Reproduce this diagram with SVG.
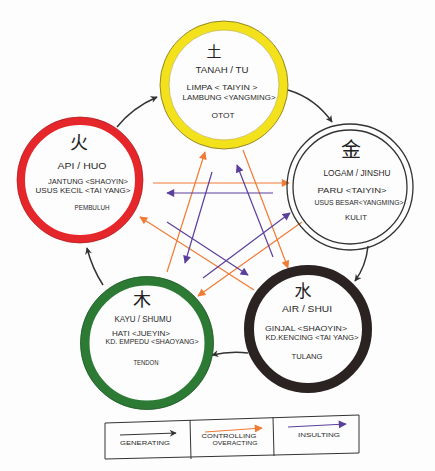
<svg xmlns="http://www.w3.org/2000/svg" width="435" height="471" viewBox="0 0 435 471">
<defs>
<style>
.t{font-family:"Liberation Sans","DejaVu Sans",sans-serif;fill:#2a2a2a;text-anchor:middle}
.n{font-size:8.5px}
.o{font-size:7.5px}
.s{font-size:6.5px}
.l{font-size:5.5px}
.cjk{font-family:"Noto Sans CJK SC","Noto Sans CJK JP",sans-serif;fill:#222;text-anchor:middle}
.gen{fill:none;stroke:#333;stroke-width:1.5;marker-end:url(#ab)}
.ctl{fill:none;stroke:#f07b35;stroke-width:1.2;marker-end:url(#ao)}
.ins{fill:none;stroke:#5b3f9c;stroke-width:1.2;marker-end:url(#ap)}
</style>
<marker id="ab" viewBox="0 0 10 10" refX="9" refY="5" markerWidth="8" markerHeight="7" markerUnits="userSpaceOnUse" orient="auto"><path d="M0,0 L10,5 L0,10 L3,5 z" fill="#333"/></marker>
<marker id="ao" viewBox="0 0 10 10" refX="9" refY="5" markerWidth="9" markerHeight="8" markerUnits="userSpaceOnUse" orient="auto"><path d="M0,0 L10,5 L0,10 z" fill="#f07b35"/></marker>
<marker id="ap" viewBox="0 0 10 10" refX="9" refY="5" markerWidth="9" markerHeight="8" markerUnits="userSpaceOnUse" orient="auto"><path d="M0,0 L10,5 L0,10 z" fill="#5b3f9c"/></marker>
</defs>
<rect width="435" height="471" fill="#fdfdfd"/>

<g id="connectors">
<path class="gen" d="M117,127 Q132,108 157,97"/>
<path class="gen" d="M288,90 Q315,98 332,122"/>
<path class="gen" d="M368,246 Q366,266 355,281"/>
<path class="gen" d="M248,353 Q230,351 212,355"/>
<path class="gen" d="M103,285 Q92,268 87,248"/>
<line class="ctl" x1="153" y1="183" x2="289" y2="183"/>
<line class="ctl" x1="302" y1="222" x2="198" y2="296"/>
<line class="ctl" x1="254" y1="290" x2="140" y2="217"/>
<line class="ctl" x1="167" y1="272" x2="205" y2="152"/>
<line class="ctl" x1="243" y1="150" x2="288" y2="268"/>
<line class="ins" x1="273" y1="193" x2="167" y2="193"/>
<line class="ins" x1="212" y1="172" x2="185" y2="263"/>
<line class="ins" x1="273" y1="257" x2="237" y2="165"/>
<line class="ins" x1="167" y1="222" x2="248" y2="275"/>
<line class="ins" x1="203" y1="278" x2="290" y2="213"/>
</g>

<g id="earth">
<circle cx="224" cy="85" r="59.5" fill="none" stroke="#f3e11b" stroke-width="9"/>
<circle cx="224" cy="85" r="64" fill="none" stroke="#7d7020" stroke-width="0.8"/>
<circle cx="224" cy="85" r="55" fill="none" stroke="#b5a51c" stroke-width="0.6"/>
<text class="cjk" x="214" y="57" font-size="15">土</text>
<text class="t n" x="222" y="73" textLength="53" lengthAdjust="spacingAndGlyphs">TANAH / TU</text>
<text class="t o" x="222" y="90" textLength="71" lengthAdjust="spacingAndGlyphs">LIMPA &lt; TAIYIN &gt;</text>
<text class="t o" x="229" y="100" textLength="93" lengthAdjust="spacingAndGlyphs">LAMBUNG &lt;YANGMING&gt;</text>
<text class="t s" x="223" y="118" textLength="23" lengthAdjust="spacingAndGlyphs">OTOT</text>
</g>

<g id="fire">
<circle cx="80" cy="180" r="59" fill="none" stroke="#e5262b" stroke-width="8"/>
<circle cx="80" cy="180" r="63" fill="none" stroke="#a81c20" stroke-width="0.7"/>
<text class="cjk" x="79" y="149" font-size="18">火</text>
<text class="t n" x="82" y="169" textLength="49" lengthAdjust="spacingAndGlyphs">API / HUO</text>
<text class="t o" x="88" y="184" textLength="80" lengthAdjust="spacingAndGlyphs">JANTUNG &lt;SHAOYIN&gt;</text>
<text class="t o" x="83" y="193" textLength="95" lengthAdjust="spacingAndGlyphs">USUS KECIL &lt;TAI YANG&gt;</text>
<text class="t s" x="92" y="210" textLength="35" lengthAdjust="spacingAndGlyphs">PEMBULUH</text>
</g>

<g id="metal">
<circle cx="350" cy="187" r="63" fill="none" stroke="#333" stroke-width="1.3"/>
<circle cx="350" cy="187" r="57" fill="none" stroke="#333" stroke-width="1.3"/>
<text class="cjk" x="351" y="157" font-size="20">金</text>
<text class="t n" x="357" y="176" textLength="67" lengthAdjust="spacingAndGlyphs">LOGAM / JINSHU</text>
<text class="t o" x="352" y="193" textLength="69" lengthAdjust="spacingAndGlyphs">PARU &lt;TAIYIN&gt;</text>
<text class="t o" x="359" y="205" textLength="89" lengthAdjust="spacingAndGlyphs">USUS BESAR&lt;YANGMING&gt;</text>
<text class="t s" x="356" y="220" textLength="22" lengthAdjust="spacingAndGlyphs">KULIT</text>
</g>

<g id="wood">
<circle cx="147" cy="343" r="62" fill="none" stroke="#2c7a34" stroke-width="9"/>
<circle cx="147" cy="343" r="66.5" fill="none" stroke="#1b5522" stroke-width="0.8"/>
<text class="cjk" x="142" y="306" font-size="18">木</text>
<text class="t n" x="143" y="322" textLength="57" lengthAdjust="spacingAndGlyphs">KAYU / SHUMU</text>
<text class="t o" x="141" y="336" textLength="58" lengthAdjust="spacingAndGlyphs">HATI &lt;JUEYIN&gt;</text>
<text class="t o" x="152" y="344" textLength="93" lengthAdjust="spacingAndGlyphs">KD. EMPEDU &lt;SHAOYANG&gt;</text>
<text class="t s" x="146" y="365" textLength="25" lengthAdjust="spacingAndGlyphs">TENDON</text>
</g>

<g id="water">
<circle cx="308" cy="329" r="59" fill="none" stroke="#2b2222" stroke-width="10"/>
<text class="cjk" x="303" y="297" font-size="17">水</text>
<text class="t n" x="307" y="312" textLength="50" lengthAdjust="spacingAndGlyphs">AIR / SHUI</text>
<text class="t o" x="306" y="331" textLength="82" lengthAdjust="spacingAndGlyphs">GINJAL &lt;SHAOYIN&gt;</text>
<text class="t o" x="312" y="340" textLength="93" lengthAdjust="spacingAndGlyphs">KD.KENCING &lt;TAI YANG&gt;</text>
<text class="t s" x="307" y="359" textLength="31" lengthAdjust="spacingAndGlyphs">TULANG</text>
</g>

<g id="legend">
<polygon points="105,423 359,415 359,453 105,459" fill="none" stroke="#333" stroke-width="1"/>
<line x1="190" y1="420" x2="191" y2="459" stroke="#333" stroke-width="1"/>
<line x1="273" y1="417" x2="274" y2="456" stroke="#333" stroke-width="1"/>
<line class="gen" x1="120" y1="435" x2="176" y2="433" style="stroke-width:1"/>
<line class="ctl" x1="205" y1="432" x2="262" y2="428"/>
<line class="ins" x1="288" y1="427" x2="346" y2="424"/>
<text class="t l" x="145" y="445" textLength="50" lengthAdjust="spacingAndGlyphs">GENERATING</text>
<text class="t l" x="229" y="438" textLength="55" lengthAdjust="spacingAndGlyphs">CONTROLLING</text>
<text class="t l" x="235" y="445" textLength="45" lengthAdjust="spacingAndGlyphs">OVERACTING</text>
<text class="t l" x="319" y="437" textLength="42" lengthAdjust="spacingAndGlyphs">INSULTING</text>
</g>
</svg>
